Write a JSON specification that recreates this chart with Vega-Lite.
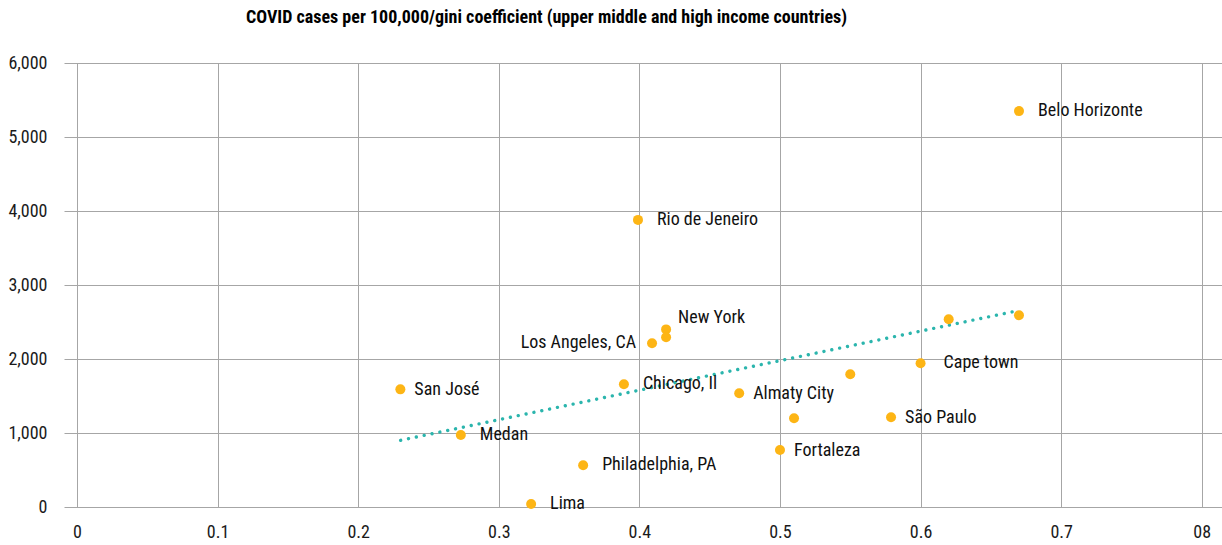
{
  "$schema": "https://vega.github.io/schema/vega-lite/v6.json",
  "width": 1158,
  "height": 444,
  "autosize": "none",
  "padding": {"left": 64, "top": 63, "right": 0, "bottom": 38},
  "background": "white",
  "config": {
    "view": {"stroke": null},
    "font": "Roboto Condensed, Liberation Sans Narrow, Roboto",
    "axis": {"labelFont": "Roboto Condensed, Liberation Sans Narrow, Roboto"}
  },
  "title": {
    "text": "COVID cases per 100,000/gini coefficient (upper middle and high income countries)",
    "anchor": "start",
    "frame": "group",
    "dx": 182,
    "offset": 27,
    "fontSize": 18,
    "fontWeight": "bold",
    "font": "Roboto Condensed, Liberation Sans Narrow, Roboto",
    "color": "#000000"
  },
  "datasets": {
    "cities": [
      {"city": "Belo Horizonte", "gini": 0.670, "cases": 5350},
      {"city": "Rio de Jeneiro", "gini": 0.399, "cases": 3880},
      {"city": "New York", "gini": 0.419, "cases": 2400},
      {"city": "", "gini": 0.419, "cases": 2293},
      {"city": "Los Angeles, CA", "gini": 0.409, "cases": 2212},
      {"city": "Chicago, Il", "gini": 0.389, "cases": 1658},
      {"city": "San José", "gini": 0.230, "cases": 1590},
      {"city": "Almaty City", "gini": 0.471, "cases": 1536},
      {"city": "", "gini": 0.550, "cases": 1793},
      {"city": "", "gini": 0.510, "cases": 1199},
      {"city": "São Paulo", "gini": 0.579, "cases": 1212},
      {"city": "Cape town", "gini": 0.600, "cases": 1942},
      {"city": "", "gini": 0.620, "cases": 2536},
      {"city": "", "gini": 0.670, "cases": 2591},
      {"city": "Medan", "gini": 0.273, "cases": 973},
      {"city": "Philadelphia, PA", "gini": 0.360, "cases": 563},
      {"city": "Lima", "gini": 0.323, "cases": 40},
      {"city": "Fortaleza", "gini": 0.500, "cases": 770}
    ],
    "trend": [
      {"gini": 0.2302, "cases": 901},
      {"gini": 0.6693, "cases": 2653}
    ]
  },
  "encoding": {
    "x": {
      "field": "gini",
      "type": "quantitative",
      "scale": {"domain": [-0.00925, 0.8144], "nice": false, "zero": false},
      "axis": {
        "title": null,
        "values": [0, 0.1, 0.2, 0.3, 0.4, 0.5, 0.6, 0.7, 0.8],
        "labelExpr": "datum.value == 0.8 ? '08' : format(datum.value, '.1~f')",
        "domain": false,
        "ticks": false,
        "grid": true,
        "gridColor": "#a6a6a6",
        "gridWidth": 1,
        "labelFontSize": 18,
        "labelColor": "#1a1a1a",
        "labelPadding": 16
      }
    },
    "y": {
      "field": "cases",
      "type": "quantitative",
      "scale": {"domain": [0, 6000], "nice": false},
      "axis": {
        "title": null,
        "values": [0, 1000, 2000, 3000, 4000, 5000, 6000],
        "format": ",d",
        "domain": false,
        "ticks": false,
        "grid": true,
        "gridColor": "#a6a6a6",
        "gridWidth": 1,
        "labelFontSize": 18,
        "labelColor": "#1a1a1a",
        "labelPadding": 17
      }
    }
  },
  "layer": [
    {
      "data": {"name": "trend"},
      "mark": {"type": "line", "color": "#2bb5ad", "strokeWidth": 3.4, "strokeDash": [0.01, 8], "strokeCap": "round"}
    },
    {
      "data": {"name": "cities"},
      "mark": {"type": "circle", "color": "#fdb515", "opacity": 1, "size": 100}
    },
    {
      "data": {"name": "cities"},
      "transform": [{"filter": "indexof(['Belo Horizonte','Rio de Jeneiro','Chicago, Il','Medan','Philadelphia, PA','Lima'], datum.city) >= 0"}],
      "mark": {"type": "text", "align": "left", "dx": 19, "fontSize": 18, "color": "#111111"},
      "encoding": {"text": {"field": "city"}}
    },
    {
      "data": {"name": "cities"},
      "transform": [{"filter": "indexof(['San José','Almaty City','São Paulo','Fortaleza'], datum.city) >= 0"}],
      "mark": {"type": "text", "align": "left", "dx": 14, "dy": 1, "fontSize": 18, "color": "#111111"},
      "encoding": {"text": {"field": "city"}}
    },
    {
      "data": {"name": "cities"},
      "transform": [{"filter": "datum.city == 'Cape town'"}],
      "mark": {"type": "text", "align": "left", "dx": 23, "fontSize": 18, "color": "#111111"},
      "encoding": {"text": {"field": "city"}}
    },
    {
      "data": {"name": "cities"},
      "transform": [{"filter": "datum.city == 'New York'"}],
      "mark": {"type": "text", "align": "left", "dx": 12, "dy": -11, "fontSize": 18, "color": "#111111"},
      "encoding": {"text": {"field": "city"}}
    },
    {
      "data": {"name": "cities"},
      "transform": [{"filter": "datum.city == 'Los Angeles, CA'"}],
      "mark": {"type": "text", "align": "right", "dx": -16, "fontSize": 18, "color": "#111111"},
      "encoding": {"text": {"field": "city"}}
    }
  ]
}
